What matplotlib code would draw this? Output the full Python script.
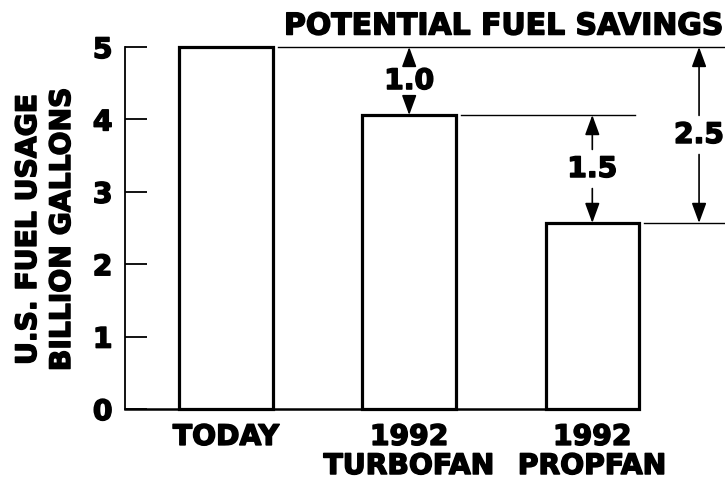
import matplotlib
matplotlib.use("Agg")
import matplotlib.pyplot as plt
import matplotlib.patheffects as pe

# data
categories = ["TODAY", "1992\nTURBOFAN", "1992\nPROPFAN"]
fuel_usage = [5.0, 4.06, 2.57]
savings_labels = ["1.0", "1.5", "2.5"]
yticks = [0, 1, 2, 3, 4, 5]

plt.rcParams['font.family'] = ['DejaVu Sans']
plt.rcParams['font.weight'] = 'bold'
FS = 20.3
# thicken the glyphs a bit, the original lettering is a black weight
heavy = [pe.withStroke(linewidth=1.1, foreground='black')]

fig = plt.figure(figsize=(7.25, 4.81), dpi=100)
ax = fig.add_axes([125 / 725, 1 - 410 / 481, (639 - 125) / 725, (410 - 48) / 481])

xs = list(range(len(categories)))
bw = 0.51
ax.bar(xs, fuel_usage, width=bw, facecolor='white', edgecolor='black',
       linewidth=2.3, clip_on=False, zorder=3)

ax.set_xlim(-0.552, xs[-1] + bw / 2)
ax.set_ylim(0, 5)
ax.set_yticks(yticks)
ax.set_yticklabels([str(t) for t in yticks], fontsize=FS, fontweight='bold')
ax.set_xticks(xs)
ax.set_xticklabels(categories, fontsize=FS, fontweight='bold', linespacing=1.05)
for lbl in ax.get_xticklabels() + ax.get_yticklabels():
    lbl.set_path_effects(heavy)
ax.tick_params(axis='y', direction='in', length=16, width=1.3, pad=9)
ax.tick_params(axis='x', length=0, pad=10)
for s in ['top', 'right']:
    ax.spines[s].set_visible(False)
ax.spines['left'].set_linewidth(1.3)
ax.spines['bottom'].set_linewidth(1.8)

# reference lines at each bar top
right_edge = 2.725
gap = 0.03
ax.plot([xs[0] + bw / 2 + gap, right_edge], [fuel_usage[0]] * 2, color='black',
        lw=1.0, clip_on=False)
ax.plot([xs[1] + bw / 2 + gap, xs[2] + bw / 2 - 0.02], [fuel_usage[1]] * 2,
        color='black', lw=1.0, clip_on=False)
ax.plot([xs[2] + bw / 2 + gap, right_edge], [fuel_usage[2]] * 2, color='black',
        lw=1.0, clip_on=False)


def dim_arrow(x, y_top, y_bot, label):
    mid = (y_top + y_bot) / 2
    props = dict(arrowstyle='-|>,head_length=0.6,head_width=0.22', color='black',
                 lw=1.2, shrinkA=2, shrinkB=0)
    t = ax.annotate(label, xy=(x, y_top), xytext=(x, mid), ha='center', va='center',
                    fontsize=FS, fontweight='bold', arrowprops=props,
                    annotation_clip=False)
    t.set_path_effects(heavy)
    ax.annotate(label, xy=(x, y_bot), xytext=(x, mid), ha='center', va='center',
                fontsize=FS, fontweight='bold', color='none', arrowprops=props,
                annotation_clip=False)


dim_arrow(xs[1], fuel_usage[0], fuel_usage[1], savings_labels[0])
dim_arrow(xs[2], fuel_usage[1], fuel_usage[2], savings_labels[1])
dim_arrow(2.583, fuel_usage[0], fuel_usage[2], savings_labels[2])

fig.text(504 / 725, 1 - 27 / 481, "POTENTIAL FUEL SAVINGS", ha='center',
         va='center', fontsize=21.5, fontweight='bold', path_effects=heavy)
fig.text(28 / 725, 1 - 230 / 481, "U.S. FUEL USAGE", rotation=90, ha='center',
         va='center', fontsize=FS, fontweight='bold', path_effects=heavy)
fig.text(62 / 725, 1 - 230 / 481, "BILLION GALLONS", rotation=90, ha='center',
         va='center', fontsize=FS, fontweight='bold', path_effects=heavy)

fig.savefig("out.png", dpi=100)
